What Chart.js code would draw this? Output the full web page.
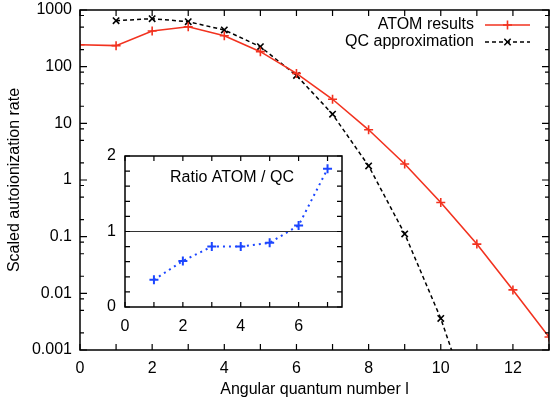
<!DOCTYPE html>
<html>
<head>
<meta charset="utf-8">
<script src="https://cdn.jsdelivr.net/npm/chart.js@4.4.1/dist/chart.umd.min.js"></script>
<style>
  html, body { margin: 0; padding: 0; background: #fff; }
  #wrap { position: relative; width: 550px; height: 405px; }
  #main { position: absolute; left: 0; top: 0; }
  #inset { position: absolute; left: 95px; top: 140px; }
</style>
</head>
<body>
<div id="wrap">
  <canvas id="main" width="550" height="405"></canvas>
  <canvas id="inset" width="260" height="200"></canvas>
</div>
<script>
// Autoionization rates versus angular quantum number l
const lValues   = [0, 1, 2, 3, 4, 5, 6, 7, 8, 9, 10, 11, 12, 13];
const atomRates = [244, 235, 426, 507, 352, 184, 76, 26.6, 7.7, 1.92, 0.40, 0.074, 0.0115, 0.0017];
const qcL       = [1, 2, 3, 4, 5, 6, 7, 8, 9, 10, 11];
const qcRates   = [648, 703, 622, 444, 225, 70, 14.5, 1.77, 0.112, 0.0036, 0.00005];

// Ratio ATOM / QC (inset)
const ratioL      = [1, 2, 3, 4, 5, 6, 7];
const ratioValues = [0.36, 0.61, 0.80, 0.80, 0.85, 1.08, 1.83];
const unitLineX   = [0, 7.5];
const unitLineY   = [1, 1];

// Axis ticks and labels
const mainXTicks  = [0, 1, 2, 3, 4, 5, 6, 7, 8, 9, 10, 11, 12, 13];
const mainXLabels = ['0', '', '2', '', '4', '', '6', '', '8', '', '10', '', '12', ''];
const mainYTicks  = [0.001, 0.01, 0.1, 1, 10, 100, 1000];
const mainYLabels = ['0.001', '0.01', '0.1', '1', '10', '100', '1000'];
const mainYMinorFactors = [2, 5, 8];
const insetXTicks  = [0, 1, 2, 3, 4, 5, 6, 7];
const insetXLabels = ['0', '', '2', '', '4', '', '6', ''];
const insetYTicks  = [0, 1, 2];
const insetYLabels = ['0', '1', '2'];
const insetYMinor  = [0.2, 0.4, 0.6, 0.8, 1.2, 1.4, 1.6, 1.8];

const FONT = '"Liberation Sans", Arial, Helvetica, sans-serif';
const RED = '#f2321f';
const BLUE = '#1c46ff';

const pts = (xs, ys) => xs.map((x, i) => ({ x: x, y: ys[i] }));

// Fixed axis box sizes, no extra label overhang padding
function fixBox(size) {
  return s => {
    if (s.isHorizontal()) s.height = size; else s.width = size;
    s.paddingLeft = 0; s.paddingRight = 0; s.paddingTop = 0; s.paddingBottom = 0;
  };
}

// Frame with inward tick marks on all four sides (gnuplot style)
function framePlugin(spec) {
  return {
    id: 'frameTicks',
    afterDatasetsDraw(chart) {
      const { ctx, chartArea: a, scales } = chart;
      const xs = scales.x, ys = scales.y;
      ctx.save();
      ctx.strokeStyle = '#000';
      ctx.lineWidth = spec.tickWidth;
      ctx.setLineDash([]);
      ctx.beginPath();
      spec.xTicks().forEach(t => {
        const px = xs.getPixelForValue(t.v);
        ctx.moveTo(px, a.bottom); ctx.lineTo(px, a.bottom - t.len);
        ctx.moveTo(px, a.top);    ctx.lineTo(px, a.top + t.len);
      });
      spec.yTicks().forEach(t => {
        const py = ys.getPixelForValue(t.v);
        ctx.moveTo(a.left, py);  ctx.lineTo(a.left + t.len, py);
        ctx.moveTo(a.right, py); ctx.lineTo(a.right - t.len, py);
      });
      ctx.stroke();
      ctx.lineWidth = spec.frameWidth;
      ctx.strokeRect(a.left, a.top, a.right - a.left, a.bottom - a.top);
      ctx.restore();
    }
  };
}

// Key in the upper right: text, then line sample with its marker
const keyPlugin = {
  id: 'sideKey',
  afterDraw(chart) {
    const ctx = chart.ctx;
    ctx.save();
    chart.data.datasets.forEach((ds, i) => {
      const y = 25 + i * 17;
      ctx.font = '16px ' + FONT;
      ctx.fillStyle = '#000';
      ctx.textAlign = 'right';
      ctx.textBaseline = 'middle';
      ctx.fillText(ds.label, 474, y);
      ctx.strokeStyle = ds.borderColor;
      ctx.lineWidth = ds.borderWidth;
      ctx.setLineDash(ds.borderDash || []);
      ctx.beginPath();
      ctx.moveTo(485, y); ctx.lineTo(530, y);
      ctx.stroke();
      ctx.setLineDash([]);
      ctx.strokeStyle = ds.pointBorderColor;
      Chart.helpers.drawPoint(ctx, {
        pointStyle: ds.pointStyle, rotation: 0,
        radius: ds.pointRadius, borderWidth: ds.pointBorderWidth
      }, 507.5, y);
    });
    ctx.restore();
  }
};

const mainChart = new Chart(document.getElementById('main'), {
  type: 'line',
  data: {
    datasets: [
      {
        label: 'ATOM results',
        data: pts(lValues, atomRates),
        borderColor: RED, borderWidth: 1.6,
        pointStyle: 'cross', pointRadius: 4.5, pointBorderWidth: 1.6,
        pointBorderColor: RED, pointBackgroundColor: RED,
        tension: 0
      },
      {
        label: 'QC approximation',
        data: pts(qcL, qcRates),
        borderColor: '#000', borderWidth: 1.5, borderDash: [4, 3],
        pointStyle: 'crossRot', pointRadius: 4.5, pointBorderWidth: 1.6,
        pointBorderColor: '#000', pointBackgroundColor: '#000',
        tension: 0
      }
    ]
  },
  options: {
    responsive: false,
    animation: false,
    devicePixelRatio: 1,
    layout: { autoPadding: false, padding: { top: 10, right: 1, left: 0, bottom: 0 } },
    plugins: { legend: { display: false }, tooltip: { enabled: false } },
    scales: {
      x: {
        type: 'linear', min: 0, max: 13,
        grid: { display: false, drawTicks: false },
        border: { display: false },
        afterBuildTicks: s => { s.ticks = mainXTicks.map(v => ({ value: v })); },
        afterFit: fixBox(55),
        ticks: {
          autoSkip: false, maxRotation: 0, padding: 9,
          color: '#000', font: { family: FONT, size: 16 },
          callback: (v, i) => mainXLabels[i]
        },
        title: {
          display: true, text: 'Angular quantum number l', color: '#000',
          font: { family: FONT, size: 16 }, padding: { top: 0, bottom: 6 }
        }
      },
      y: {
        type: 'logarithmic', min: 0.001, max: 1000,
        grid: { display: false, drawTicks: false },
        border: { display: false },
        afterBuildTicks: s => { s.ticks = mainYTicks.map(v => ({ value: v })); },
        afterFit: fixBox(80),
        ticks: {
          autoSkip: false, padding: 8,
          color: '#000', font: { family: FONT, size: 16 },
          callback: (v, i) => mainYLabels[i]
        },
        title: {
          display: true, text: 'Scaled autoionization rate', color: '#000',
          font: { family: FONT, size: 16 }, padding: { top: 5, bottom: 0 }
        }
      }
    }
  },
  plugins: [
    framePlugin({
      tickWidth: 1.2, frameWidth: 1.5,
      xTicks: () => mainXTicks.map(v => ({ v: v, len: 6 })),
      yTicks: () => {
        const out = mainYTicks.map(v => ({ v: v, len: 7 }));
        mainYTicks.slice(0, -1).forEach(d => mainYMinorFactors.forEach(m => out.push({ v: d * m, len: 4 })));
        return out;
      }
    }),
    keyPlugin
  ]
});

// Inset: white box behind the plot area and its caption
const insetBox = {
  id: 'insetBox',
  beforeDraw(chart) {
    const { ctx, chartArea: a } = chart;
    ctx.save();
    ctx.fillStyle = '#fff';
    ctx.fillRect(a.left, a.top, a.right - a.left, a.bottom - a.top);
    ctx.restore();
  },
  afterDraw(chart) {
    const { ctx } = chart;
    ctx.save();
    ctx.font = '16px ' + FONT;
    ctx.fillStyle = '#000';
    ctx.textAlign = 'center';
    ctx.textBaseline = 'middle';
    ctx.fillText('Ratio ATOM / QC', 232 - 95, 178 - 140);
    ctx.restore();
  }
};

const insetChart = new Chart(document.getElementById('inset'), {
  type: 'line',
  data: {
    datasets: [
      {
        label: 'unity',
        data: pts(unitLineX, unitLineY),
        borderColor: '#333', borderWidth: 1.2,
        pointRadius: 0, tension: 0
      },
      {
        label: 'Ratio ATOM / QC',
        data: pts(ratioL, ratioValues),
        borderColor: BLUE, borderWidth: 2, borderDash: [2, 4],
        pointStyle: 'cross', pointRadius: 4.5, pointBorderWidth: 2,
        pointBorderColor: BLUE, tension: 0
      }
    ]
  },
  options: {
    responsive: false,
    animation: false,
    devicePixelRatio: 1,
    layout: { autoPadding: false, padding: { top: 16, right: 13, left: 0, bottom: 0 } },
    plugins: { legend: { display: false }, tooltip: { enabled: false } },
    scales: {
      x: {
        type: 'linear', min: 0, max: 7.5,
        grid: { display: false, drawTicks: false },
        border: { display: false },
        afterBuildTicks: s => { s.ticks = insetXTicks.map(v => ({ value: v })); },
        afterFit: fixBox(33),
        ticks: {
          autoSkip: false, maxRotation: 0, padding: 10,
          color: '#000', font: { family: FONT, size: 16 },
          callback: (v, i) => insetXLabels[i]
        }
      },
      y: {
        type: 'linear', min: 0, max: 2,
        grid: { display: false, drawTicks: false },
        border: { display: false },
        afterBuildTicks: s => { s.ticks = insetYTicks.map(v => ({ value: v })); },
        afterFit: fixBox(30),
        ticks: {
          autoSkip: false, padding: 9,
          color: '#000', font: { family: FONT, size: 16 },
          callback: (v, i) => insetYLabels[i]
        }
      }
    }
  },
  plugins: [
    insetBox,
    framePlugin({
      tickWidth: 1.2, frameWidth: 1.5,
      xTicks: () => insetXTicks.map(v => ({ v: v, len: 5 })),
      yTicks: () => insetYTicks.concat(insetYMinor).map(v => ({ v: v, len: 5 }))
    })
  ]
});
</script>
</body>
</html>
